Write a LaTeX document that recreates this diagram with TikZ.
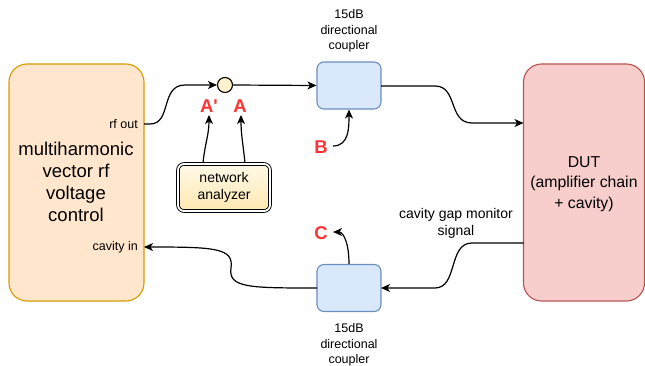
\documentclass[tikz,border=0pt]{standalone}
\usepackage{fontspec}
\setmainfont{Liberation Sans}[Ligatures=TeXOff]
\usetikzlibrary{arrows.meta}
\definecolor{lfill}{HTML}{FFE6CC}\definecolor{ldraw}{HTML}{D79B00}
\definecolor{dfill}{HTML}{F8CECC}\definecolor{ddraw}{HTML}{B85450}
\definecolor{cfill}{HTML}{DAE8FC}\definecolor{cdraw}{HTML}{6C8EBF}
\definecolor{lab}{HTML}{FF3333}
\definecolor{natop}{HTML}{FFF9E8}\definecolor{nabot}{HTML}{FFE8B0}
\definecolor{circf}{HTML}{FFF2CC}
\tikzset{
  conn/.style={line width=1.2pt,-{Stealth[length=9pt,width=8pt,inset=2.5pt]}},
  bigbox/.style={rounded corners=18pt,line width=1.1pt,inner sep=0pt},
  coupler/.style={draw=cdraw,fill=cfill,rounded corners=7pt,line width=1.1pt,minimum width=64pt,minimum height=47pt,inner sep=0pt},
  redlab/.style={text=lab,font=\fontsize{18.5}{18}\selectfont\bfseries,inner sep=0pt},
  small/.style={font=\fontsize{12.5}{15.5}\selectfont,align=center,inner sep=0pt},
}
\begin{document}
\begin{tikzpicture}[x=1pt,y=-1pt]
\useasboundingbox (0,0) rectangle (645,366);
% boxes
\node[bigbox,draw=ldraw,fill=lfill,minimum width=135pt,minimum height=237pt] (lbox) at (76.5,182.5) {};
\node[font=\fontsize{18.5}{22}\selectfont,align=center,inner sep=0pt] (ltext) at (76,182) {multiharmonic\\vector rf\\voltage\\control};
\node[bigbox,draw=ddraw,fill=dfill,minimum width=121pt,minimum height=237pt] (dut) at (584,182.5) {};
\node[font=\fontsize{15.8}{20.5}\selectfont,align=center,inner sep=0pt] (dtext) at (584,184) {DUT\\(amplifier chain\\+ cavity)};
\node[coupler] (tc) at (349,85.5) {};
\node[coupler] (bc) at (349,288) {};
\node[small] (tcl) at (349,31) {15dB\\directional\\coupler};
\node[small] (bcl) at (349,345) {15dB\\directional\\coupler};
\node[circle,draw,fill=circf,line width=1.1pt,minimum size=15pt,inner sep=0pt] (circ) at (225,85) {};
\node[draw,double,double distance=1.8pt,line width=0.9pt,rounded corners=6pt,top color=natop,bottom color=nabot,
  minimum width=92pt,minimum height=47pt,font=\fontsize{14}{17}\selectfont,align=center,inner sep=0pt] (na) at (224,187.5) {network\\analyzer};
% small labels
\node[small,anchor=east] (rfl) at (138,124) {rf out};
\node[small,anchor=east] (cvl) at (138,247) {cavity in};
\node[font=\fontsize{14}{17}\selectfont,align=center,inner sep=0pt] (cgm) at (456,223) {cavity gap monitor\\signal};
\node[redlab] (Ap) at (209,106) {A'};
\node[redlab] (A) at (240,106) {A};
\node[redlab] (B) at (321,147) {B};
\node[redlab] (C) at (321,233) {C};
% coordinates
\coordinate (rfo) at (144,124);
\coordinate (cvi) at (144,247);
\coordinate (dutin) at (523.5,123);
\coordinate (dutout) at (523.5,243);
\coordinate (tcout) at (381,86);
\coordinate (bcin) at (381,288);
\coordinate (bcw) at (317,288);
\coordinate (na1) at (203,163);
\coordinate (na2) at (245,163);
\coordinate (Apb) at (209,115);
\coordinate (Ab) at (241,115);
\coordinate (Bs) at (333,146);
\coordinate (Ce) at (333,232);
% connectors
\draw[conn] (rfo) -- (150,124) .. controls (172,124) and (160,85) .. (185,85) -- (circ.west);
\draw[conn] (circ.east) -- (tc.west);
\draw[conn] (tcout) -- (435,86) .. controls (458,86) and (448,123) .. (472,123) -- (dutin);
\draw[conn] (Bs) .. controls +(16,0) and +(0,18) .. (tc.south);
\draw[conn] (dutout) -- (472,243) .. controls (448,243) and (458,288) .. (435,288) -- (bcin);
\draw[conn] (bcw) .. controls (250,288) and (228,288) .. (231,268) .. controls (234,248) and (215,247) .. (cvi);
\draw[conn] (bc.north) .. controls +(0,-22) and +(10,0) .. (Ce);
\draw[conn] (na1) .. controls +(2,-20) and +(0,20) .. (Apb);
\draw[conn] (na2) .. controls +(-2,-20) and +(0,20) .. (Ab);
\end{tikzpicture}
\end{document}
